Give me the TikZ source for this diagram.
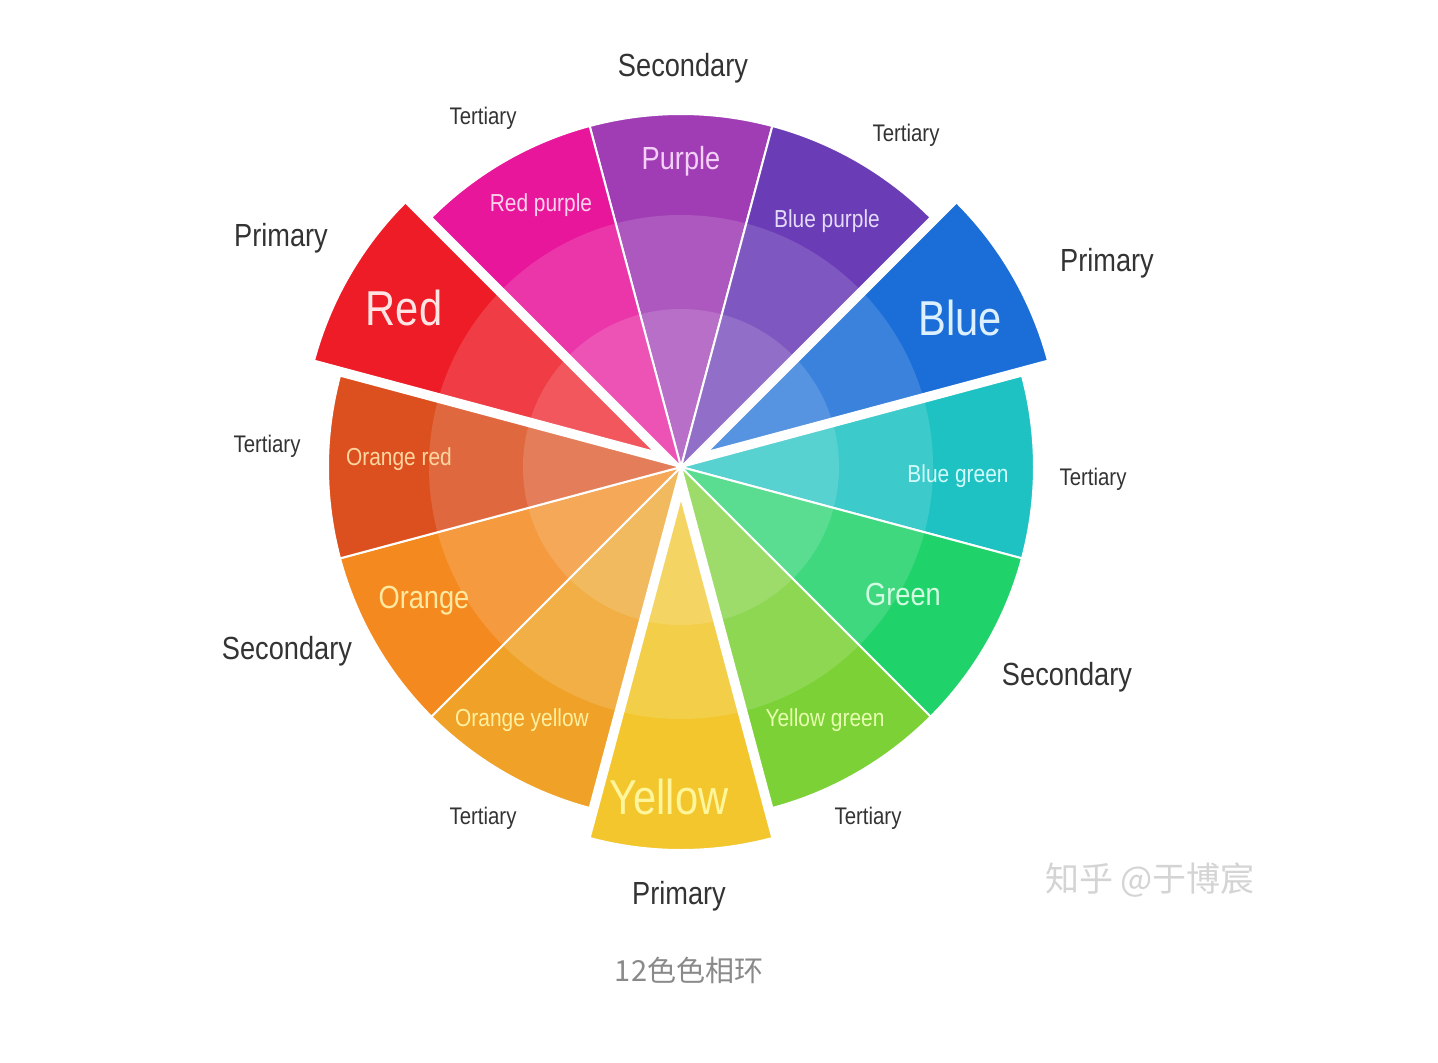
\documentclass[tikz,border=0pt]{standalone}
\usepackage{fontspec}
\setmainfont{Liberation Sans}[FakeStretch=0.85]
\newfontfamily\cjkfont{Noto Sans CJK SC}
\definecolor{cPurple}{HTML}{A03DB5}
\definecolor{cBluePurple}{HTML}{6A3CB6}
\definecolor{cBlue}{HTML}{1B6ED8}
\definecolor{cBlueGreen}{HTML}{1EC2C2}
\definecolor{cGreen}{HTML}{20D26A}
\definecolor{cYellowGreen}{HTML}{7BD136}
\definecolor{cYellow}{HTML}{F2C62C}
\definecolor{cOrangeYellow}{HTML}{EFA227}
\definecolor{cOrange}{HTML}{F48A1F}
\definecolor{cOrangeRed}{HTML}{DC5020}
\definecolor{cRed}{HTML}{EE1C26}
\definecolor{cRedPurple}{HTML}{E8169B}
\definecolor{tPurpleC}{HTML}{F3D0F5}
\definecolor{tRedPurpleC}{HTML}{FBD3EC}
\definecolor{tBluePurpleC}{HTML}{E4DAFA}
\definecolor{tRedC}{HTML}{FFE4E4}
\definecolor{tBlueC}{HTML}{DDF0FF}
\definecolor{tOrangeRedC}{HTML}{FFD6A0}
\definecolor{tBlueGreenC}{HTML}{D2FAFA}
\definecolor{tOrangeC}{HTML}{FFE9A0}
\definecolor{tGreenC}{HTML}{D2FBE2}
\definecolor{tOrangeYellowC}{HTML}{FFF0A0}
\definecolor{tYellowGreenC}{HTML}{E6FFB0}
\definecolor{tYellowC}{HTML}{FFF59A}
\definecolor{labgray}{HTML}{333333}
\definecolor{capgray}{HTML}{8A8A8A}
\definecolor{wmgray}{HTML}{D4D4D4}
\newcommand\wedgeseg[3]{%
  \filldraw[fill=#2, draw=white, line width=1pt, line join=round]
    (#1:#3) -- ++(#1-15:353) arc[start angle=#1-15, end angle=#1+15, radius=353] -- cycle;}
\tikzset{
  outbig/.style={text=labgray, inner sep=0pt, font=\fontsize{16}{18}\selectfont},
  outsmall/.style={text=labgray, inner sep=0pt, font=\fontsize{12}{14}\selectfont},
  inlab/.style={inner sep=0pt, font=\fontsize{12.3}{14}\selectfont},
  inmid/.style={inner sep=0pt, font=\fontsize{16}{18}\selectfont},
  inbig/.style={inner sep=0pt, font=\fontsize{24.5}{26}\selectfont},
}
\begin{document}
\begin{tikzpicture}[x=0.5pt, y=0.5pt]
\useasboundingbox[fill=white] (-681,-595) rectangle (757,467);
% non-primary segments
\wedgeseg{90}{cPurple}{0}
\wedgeseg{60}{cBluePurple}{0}
\wedgeseg{0}{cBlueGreen}{0}
\wedgeseg{-30}{cGreen}{0}
\wedgeseg{-60}{cYellowGreen}{0}
\wedgeseg{-120}{cOrangeYellow}{0}
\wedgeseg{-150}{cOrange}{0}
\wedgeseg{180}{cOrangeRed}{0}
\wedgeseg{120}{cRedPurple}{0}
% primary segments, pulled outward
\wedgeseg{150}{cRed}{30}
\wedgeseg{30}{cBlue}{30}
\wedgeseg{-90}{cYellow}{30}
% lighter inner bands
\fill[white, opacity=0.14] (0,0) circle[radius=252];
\fill[white, opacity=0.14] (0,0) circle[radius=158];
% segment names
\node[inmid, text=tPurpleC] (tPurple) at (0,306) {Purple};
\node[inlab, text=tRedPurpleC] (tRedPurple) at (-140,262) {Red purple};
\node[inlab, text=tBluePurpleC] (tBluePurple) at (146,246) {Blue purple};
\node[inbig, text=tRedC] (tRed) at (-277,159) {Red};
\node[inbig, text=tBlueC] (tBlue) at (279,149) {Blue};
\node[inlab, text=tOrangeRedC] (tOrangeRed) at (-282,8) {Orange red};
\node[inlab, text=tBlueGreenC] (tBlueGreen) at (277,-9) {Blue green};
\node[inmid, text=tOrangeC] (tOrange) at (-257,-134) {Orange};
\node[inmid, text=tGreenC] (tGreen) at (222,-127) {Green};
\node[inlab, text=tOrangeYellowC] (tOrangeYellow) at (-159,-253) {Orange yellow};
\node[inlab, text=tYellowGreenC] (tYellowGreen) at (144,-253) {Yellow green};
\node[inbig, text=tYellowC] (tYellow) at (-12,-330) {Yellow};
% category labels
\node[outbig] (lSecTop) at (2,399) {Secondary};
\node[outsmall] (lTerTL) at (-198,349) {Tertiary};
\node[outsmall] (lTerTR) at (225,332) {Tertiary};
\node[outbig] (lPriL) at (-400,229) {Primary};
\node[outbig] (lPriR) at (426,204) {Primary};
\node[outsmall] (lTerL) at (-414,21) {Tertiary};
\node[outsmall] (lTerR) at (412,-12) {Tertiary};
\node[outbig] (lSecL) at (-394,-184) {Secondary};
\node[outbig] (lSecR) at (386,-210) {Secondary};
\node[outsmall] (lTerBL) at (-198,-351) {Tertiary};
\node[outsmall] (lTerBR) at (187,-351) {Tertiary};
\node[outbig] (lPriB) at (-2,-429) {Primary};
% watermark and caption
\node[inner sep=0pt, text=wmgray, font=\cjkfont\fontsize{17}{19}\selectfont] (wm) at (469,-413) {知乎 @于博宸};
\node[inner sep=0pt, text=capgray, font=\cjkfont\fontsize{14.5}{16}\selectfont] (cap) at (8,-503) {12色色相环};
\end{tikzpicture}
\end{document}
